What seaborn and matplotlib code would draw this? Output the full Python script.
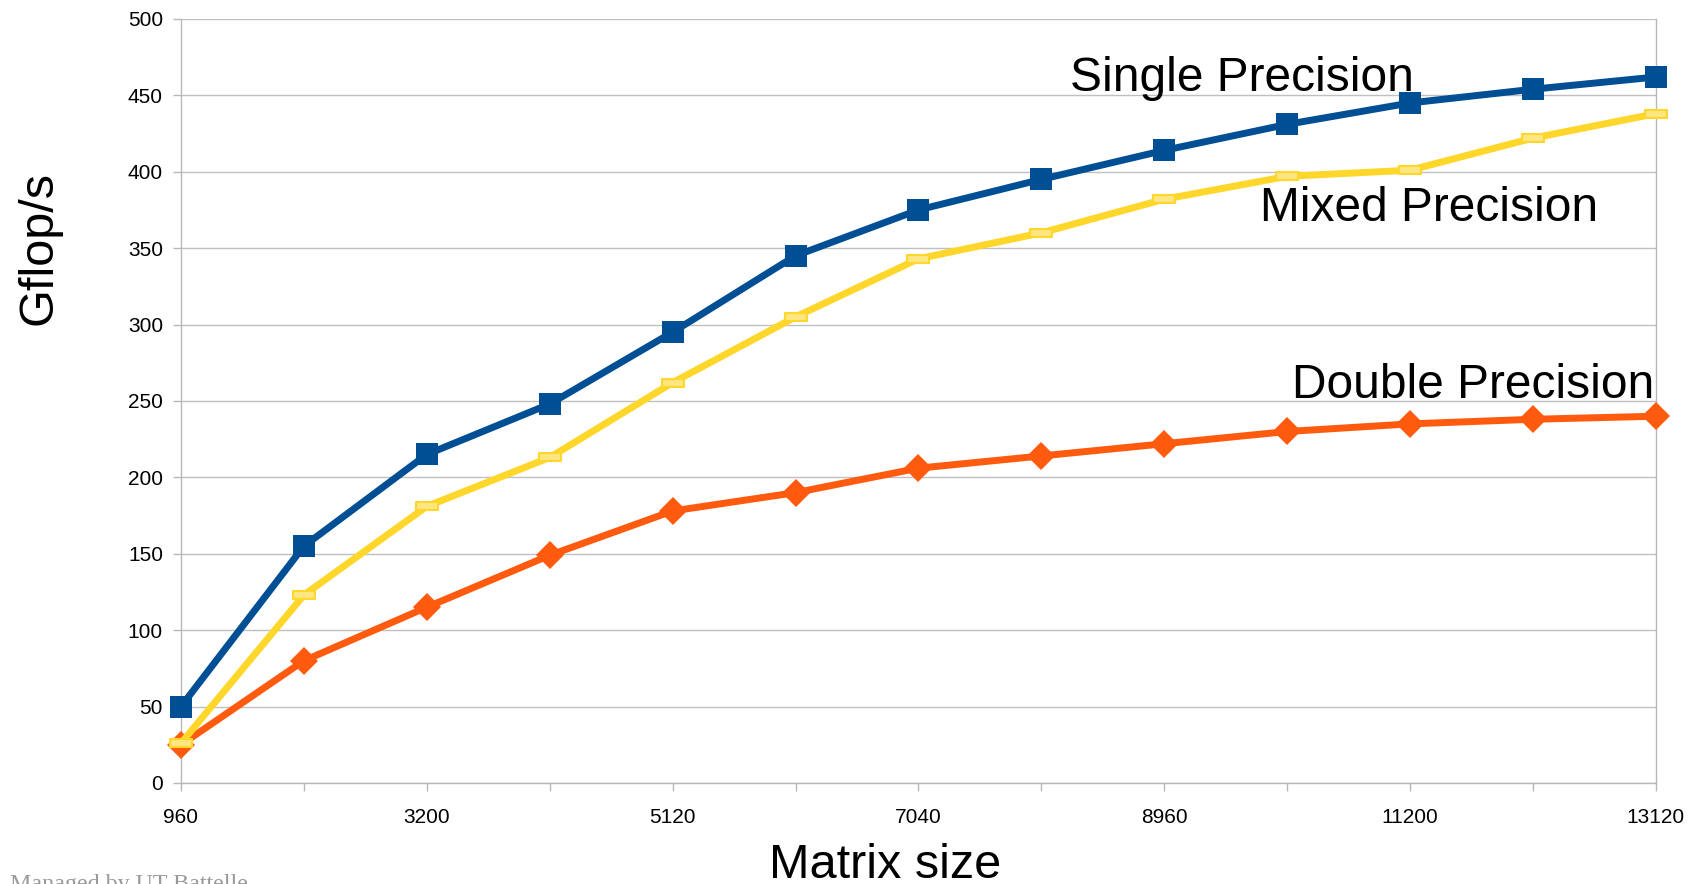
import numpy as np
import pandas as pd
import matplotlib
matplotlib.use("Agg")
import matplotlib.pyplot as plt
from matplotlib.path import Path
import seaborn as sns

# Matrix sizes (categorical axis, every other one labelled)
matrix_sizes = [960, 2240, 3200, 4160, 5120, 6080, 7040, 8000, 8960, 10240, 11200, 12160, 13120]
single_gflops = [50, 155, 215, 248, 295, 345, 375, 395, 414, 431, 445, 454, 462]
mixed_gflops = [26, 123, 181, 213, 262, 305, 343, 360, 382, 397, 401, 422, 438]
double_gflops = [25, 80, 115, 149, 178, 190, 206, 214, 222, 230, 235, 238, 240]
y_ticks = [0, 50, 100, 150, 200, 250, 300, 350, 400, 450, 500]

sns.set_theme(style="white")
plt.rcParams["font.family"] = ["Liberation Sans", "DejaVu Sans"]
plt.rcParams["text.color"] = "black"

fig = plt.figure(figsize=(16.93, 8.84), dpi=100)
ax = fig.add_axes([0.1069, 0.1143, 0.8712, 0.8643])

pos = np.arange(len(matrix_sizes))
df = pd.DataFrame({"pos": pos, "single": single_gflops,
                   "mixed": mixed_gflops, "double": double_gflops})

bar_marker = Path([(-1, -0.32), (1, -0.32), (1, 0.32), (-1, 0.32), (-1, -0.32)],
                  [Path.MOVETO, Path.LINETO, Path.LINETO, Path.LINETO, Path.CLOSEPOLY])

sns.lineplot(data=df, x="pos", y="double", ax=ax, color="#ff5a0e", linewidth=5,
             marker="D", markersize=14, markeredgewidth=0, zorder=3, clip_on=False)
sns.lineplot(data=df, x="pos", y="mixed", ax=ax, color="#ffd62a", linewidth=5,
             marker=bar_marker, markersize=16, markerfacecolor="#ffe680",
             markeredgecolor="#ffd62a", markeredgewidth=1.5, zorder=4, clip_on=False)
sns.lineplot(data=df, x="pos", y="single", ax=ax, color="#004f94", linewidth=5,
             marker="s", markersize=16, markeredgewidth=0, zorder=5, clip_on=False)

ax.set_xlim(0, len(matrix_sizes) - 1)
ax.set_ylim(0, 500)
ax.set_yticks(y_ticks)
ax.set_yticklabels([str(v) for v in y_ticks], fontsize=15)
ax.set_xticks(pos)
ax.set_xticklabels([str(m) if i % 2 == 0 else "" for i, m in enumerate(matrix_sizes)],
                   fontsize=15)

ax.grid(axis="y", color="#c0c0c0", linewidth=1)
ax.grid(axis="x", visible=False)
for side in ["left", "bottom", "right"]:
    ax.spines[side].set_color("#b8b8b8")
    ax.spines[side].set_linewidth(1)
ax.spines["top"].set_visible(False)
ax.tick_params(axis="y", length=6, width=1, color="#b8b8b8", labelcolor="black",
               direction="out", left=True, pad=7)
ax.tick_params(axis="x", length=6, width=1, color="#b8b8b8", labelcolor="black",
               direction="out", bottom=True, pad=12)

ax.set_xlabel("")
ax.set_ylabel("")

ax.text(7.23, 461, "Single Precision", fontsize=34.5, va="center", ha="left", zorder=6)
ax.text(8.78, 376, "Mixed Precision", fontsize=34.5, va="center", ha="left", zorder=6)
ax.text(9.04, 260, "Double Precision", fontsize=34.5, va="center", ha="left", zorder=6)

fig.text(0.023, 0.72, "Gflop/s", fontsize=35, rotation=90, ha="center", va="center")
fig.text(0.523, 0.021, "Matrix size", fontsize=35, ha="center", va="center")
fig.text(0.006, -0.012, "Managed by UT Battelle", fontsize=17.3, color="#9a9a9a",
         family=["Liberation Serif", "DejaVu Serif"], ha="left", va="bottom")

fig.savefig("out.png", dpi=100)
